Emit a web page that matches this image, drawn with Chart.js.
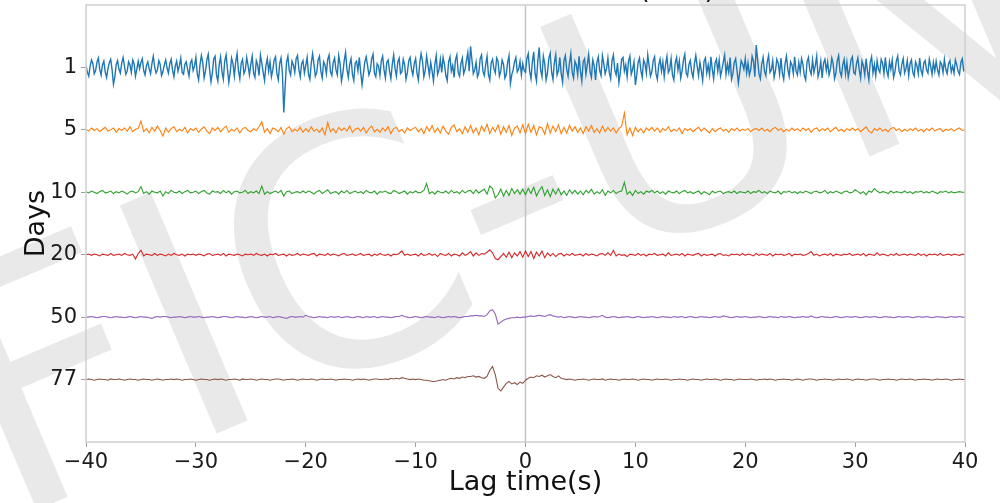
<!DOCTYPE html>
<html>
<head>
<meta charset="utf-8">
<script src="https://cdn.jsdelivr.net/npm/chart.js@4.4.1/dist/chart.umd.min.js"></script>
<style>
  html, body { margin: 0; padding: 0; background: #ffffff; }
  #wrap { width: 1000px; height: 503px; }
</style>
</head>
<body>
<div id="wrap"><canvas id="ncf" width="1000" height="503"></canvas></div>
<script>
// Lag axis runs from -40 s to +40 s
const lagStart = -40;
const lagStepFine = 0.125;   // 1-day stack sampling
const lagStep = 0.25;        // longer stacks sampling
const lagTicks = [-40, -30, -20, -10, 0, 10, 20, 30, 40];

// Stacking lengths (days), one trace each, top to bottom
const dayLabels = ['1', '5', '10', '20', '50', '77'];

// Normalised amplitudes, 100 counts = one trace spacing
const ampGain = 0.01;

const day1 = [
  3,-8,-14,2,12,6,-10,-5,9,15,-3,-12,4,10,-7,-16,-2,8,13,-4,
  -27,-15,5,11,-3,-9,7,16,2,-11,-6,9,4,-8,12,6,-14,-3,10,-2,
  8,14,-5,-12,3,9,-2,-10,6,18,1,-9,-4,11,5,-13,-7,4,12,-1,
  -9,6,13,-4,-15,2,10,-6,3,15,-8,-11,5,9,-3,-14,7,12,-5,2,
  16,-10,-20,4,19,8,-17,-6,12,21,-4,-23,-9,14,18,-12,-22,5,17,-7,
  -19,10,20,-3,-24,-8,15,6,-14,9,22,-5,-18,7,13,-10,-4,16,3,-12,
  5,18,-9,-16,11,4,-13,20,7,-8,-21,3,14,-6,9,-15,-4,12,17,-10,
  -20,6,15,-9,-72,-30,8,18,-5,-12,10,4,-8,14,19,-3,-15,6,11,-9,
  3,16,-11,-19,7,22,5,-14,-8,12,18,-6,-17,9,4,-10,13,20,-7,-13,
  8,15,-4,-12,19,6,-22,-9,11,24,-3,-16,5,14,-11,-21,7,10,-5,16,
  -8,-28,-10,9,17,3,-12,-5,14,21,-9,-15,6,2,-13,10,18,-4,-17,8,
  12,-6,-18,5,20,-2,-14,9,15,-10,-7,13,4,-19,-8,11,16,-3,-12,6,
  14,-9,-20,7,22,10,-15,-5,18,3,-12,8,-6,-22,5,19,-11,-4,13,-8,
  16,5,-13,-21,9,17,-6,3,-16,12,20,-8,-14,6,15,-10,-3,11,24,-6,
  34,12,-10,-4,8,-15,-9,14,20,-6,-13,4,18,-11,-20,7,13,-2,-9,15,
  10,-14,-6,12,5,-17,-11,8,19,-26,-12,-4,9,16,-7,-3,10,-12,6,-5,
  -8,14,22,-6,-18,9,25,-10,-22,12,32,-4,-15,18,6,-20,-9,15,23,-7,
  -19,8,20,-12,-5,16,-10,-24,11,19,-3,-14,7,22,-8,-17,10,4,-12,18,
  -6,-22,9,14,-11,5,21,-7,-16,12,3,-20,8,17,-5,-13,19,6,-10,-2,
  15,-8,-18,11,20,-4,-12,7,-24,-9,13,16,-6,4,-15,10,18,-11,-3,9,
  -28,-12,8,15,-5,-16,12,6,-9,20,3,-14,-7,11,17,-10,-19,4,13,-6,
  9,-15,5,18,-8,-3,14,-12,-20,7,16,-4,10,-17,-6,12,21,-9,-14,5,
  11,-7,-16,6,19,2,-13,8,-5,-21,10,15,-9,4,-12,17,-3,-18,7,13,
  -6,12,-14,-4,9,20,-11,5,-8,16,-19,-10,8,14,-5,-25,-8,11,6,-3,
  14,-9,7,-12,-3,18,10,-15,36,12,-10,-18,5,16,-6,-13,9,19,-8,-4,
  11,-16,-5,13,7,-11,15,-9,-19,6,18,-3,-14,9,4,-10,17,-6,-12,8,
  -7,14,5,-13,-20,9,16,-4,-11,12,-8,3,18,-15,-6,10,-17,7,13,-5,
  9,-12,-3,15,6,-18,-9,11,19,-7,-14,4,13,-10,8,-16,-4,12,17,-8,
  -11,6,15,-4,-17,10,3,-12,14,-6,-20,8,17,-9,5,-13,11,-3,-8,13,
  7,-10,16,-5,-14,9,-3,12,-16,-7,10,18,-6,-12,5,14,-9,-2,11,-13,
  6,12,-8,-14,9,3,-10,15,-5,-12,7,11,-4,-9,13,2,-11,8,-6,10,
  -4,-12,9,5,-8,13,-3,-10,6,11,-7,2,-9,12,4,-6,-11,8,14,-5,
  -3
];

const day5 = [
  1,-2,3,-1,2,-3,1,4,-2,0,3,-4,2,-1,3,-2,5,-3,1,2,
  14,-3,2,-5,4,-2,6,-1,-10,3,-4,2,5,-3,1,-2,4,-5,2,-1,
  3,-4,1,5,-2,-6,3,-1,4,-3,2,6,-4,1,-2,3,-5,2,4,-1,
  -3,2,-1,5,13,-4,2,-6,3,1,-3,4,-7,2,5,-3,1,-2,4,-4,
  2,-3,5,-2,1,-4,3,-8,12,-3,2,-5,4,-1,3,-2,6,-4,1,3,
  -2,4,-5,2,6,-3,1,-4,3,-2,5,-6,2,4,-3,1,-5,3,-1,2,
  4,-3,2,-6,5,-2,7,-4,3,-5,6,-2,-7,4,8,-3,2,-6,5,-4,
  7,-5,3,-8,6,-2,9,-6,4,-3,8,-7,5,-4,7,-9,3,6,-5,8,
  -6,9,-4,7,-8,5,3,-7,10,-5,6,-3,8,-6,4,-5,7,-2,5,-4,
  3,-6,5,-2,7,-4,2,-5,6,-3,4,-2,3,-5,2,6,27,-8,3,-9,
  4,-3,2,-5,3,-1,4,-2,3,-4,2,-1,5,-3,1,-2,3,-6,2,-1,
  2,-3,1,4,-2,3,-1,-5,2,-3,1,3,-2,1,-4,2,-1,3,-2,1,
  -1,2,-3,1,2,-1,3,-2,1,-3,2,4,-1,2,-3,1,-2,3,-1,2,
  -2,3,-1,2,-4,1,3,-2,2,-1,3,-3,1,4,-2,1,-3,2,-1,3,
  -1,2,-3,1,5,-2,-5,2,-1,3,-2,1,-3,2,4,-1,2,-3,1,-2,
  2,-1,3,-2,1,-3,2,-1,3,-2,1,2,-3,1,-1,2,-2,1,3,-1,
  0
];

const day10 = [
  1,-1,2,0,-2,1,3,-1,0,2,-2,1,-1,2,0,-3,1,2,-1,1,
  9,-2,1,-3,2,0,-1,2,-6,1,-2,3,0,-1,2,-2,1,3,-1,0,
  2,-2,1,3,-1,-3,2,0,1,-2,3,-1,2,-3,1,2,-1,0,3,-2,
  1,-1,2,-2,10,-3,1,-2,0,2,-1,3,-6,1,2,-2,0,1,-1,2,
  -1,2,0,-3,1,3,-2,1,4,-2,0,1,-3,2,-1,3,-2,0,2,-1,
  1,-2,3,0,-1,2,-3,1,0,2,-1,-2,3,1,-2,0,2,-3,1,-1,
  2,-1,0,3,14,-2,1,-3,2,0,-1,2,-2,3,-1,1,-2,3,-1,2,
  3,-2,4,-1,2,5,-3,10,6,-9,-4,5,-6,3,-5,6,-2,4,-3,5,
  -4,6,-2,8,-6,3,9,-5,4,-7,5,-3,6,-4,2,-5,4,-2,3,-3,
  2,-4,3,-1,5,-3,1,-2,4,-5,2,-1,3,-2,1,2,16,-3,1,-5,
  3,-2,1,-3,2,0,3,-1,2,-2,1,-3,2,0,-1,2,-2,1,3,-1,
  1,-2,0,2,-3,1,-1,-4,2,-1,1,2,-2,0,1,-1,2,-2,1,0,
  -1,2,-2,1,0,3,-1,1,-2,2,0,-1,2,-3,1,0,2,-1,1,-2,
  1,-1,2,0,-2,1,2,-1,0,3,-2,1,-1,2,0,-2,1,2,-1,0,
  4,1,-2,1,-4,2,0,6,2,-1,1,0,-2,2,-1,1,0,-1,2,-1,
  1,-2,1,0,2,-1,1,-1,2,0,-2,1,0,2,-1,1,-1,0,1,0,
  0
];

const day20 = [
  0,1,-1,1,0,-2,1,0,-1,2,-1,0,1,-1,2,0,-1,1,-7,2,
  7,-2,1,0,-1,2,-1,1,0,-2,1,-1,2,0,-1,1,-2,1,0,1,
  -1,1,0,-2,1,2,-1,0,1,-1,2,-2,1,0,-1,1,0,-2,1,0,
  1,-1,2,0,-1,1,-2,1,0,2,-1,0,1,-2,1,-1,0,2,-1,1,
  0,-1,1,2,-2,1,0,-1,2,-1,1,0,-2,1,2,-1,0,1,-1,0,
  2,-1,0,1,-2,1,-1,2,0,-1,1,-2,1,0,2,6,-1,1,-1,0,
  1,-2,2,-1,0,2,-1,1,-3,2,0,-1,2,-2,1,0,-2,3,-1,1,
  5,-2,3,-1,2,1,4,8,3,-6,-8,-3,2,-4,4,-5,3,-2,5,-4,
  6,-3,5,-6,4,-2,6,-5,3,-2,2,-3,1,2,-2,1,-1,2,-1,0,
  1,-2,2,-1,1,0,-2,1,2,-1,3,-1,7,-2,1,-1,0,-3,1,0,
  -1,2,-1,1,-2,1,0,2,-1,0,1,-2,3,-1,0,1,-1,2,-2,1,
  0,-1,1,2,-2,1,-1,0,1,-2,1,2,-1,0,-2,1,0,1,-1,2,
  -1,1,0,-2,2,-1,1,0,-1,2,-2,1,0,1,-1,0,2,-2,1,0,
  1,-1,0,2,5,-1,1,-2,0,1,-1,2,-2,1,0,-1,1,0,2,-1,
  0,1,-1,2,-2,1,0,-1,3,-1,1,0,-2,1,-1,2,-1,0,1,-1,
  1,0,-1,2,-1,1,-2,1,0,1,-1,2,-1,0,1,-1,1,0,-1,1,
  0
];

const day50 = [
  0,0,1,0,-1,0,1,1,0,-1,0,1,0,0,-1,0,1,0,-1,0,
  1,0,0,-1,-2,0,1,0,1,1,0,-1,0,0,1,0,-1,0,1,0,
  0,1,0,-1,0,0,1,0,-1,0,1,1,0,-1,0,1,0,0,-1,0,
  1,0,-1,0,1,0,0,1,-1,0,1,0,-1,-2,0,1,0,0,1,0,
  3,1,0,-1,0,1,0,0,-1,1,0,0,1,-1,0,1,0,-1,0,1,
  0,-1,1,0,0,1,-1,0,1,0,0,-1,0,1,1,3,1,0,-1,0,
  1,0,-1,0,1,0,0,-1,1,0,-1,0,1,0,1,0,-1,0,1,1,
  2,2,3,2,2,1,4,10,12,5,-11,-8,-5,-3,-2,-1,-1,0,-1,0,
  0,1,2,1,2,3,2,1,3,4,2,1,0,1,-1,0,1,0,-1,0,
  1,0,0,-1,0,1,0,1,3,0,-1,0,1,0,-1,0,0,1,0,-1,
  0,1,0,-1,0,0,1,0,-1,0,1,0,0,-1,1,0,0,1,-1,0,
  1,0,-1,0,1,0,0,-1,0,1,0,0,2,1,0,-1,0,1,0,0,
  1,0,-1,0,0,1,0,-1,0,1,0,0,-1,1,0,0,1,0,-1,0,
  0,1,0,0,2,0,-1,0,1,0,0,-1,0,1,0,-1,0,1,0,0,
  1,0,-1,0,1,0,0,1,0,-1,0,1,0,0,-1,0,1,0,0,1,
  0,-1,0,1,0,0,1,0,-1,0,1,0,0,-1,0,1,0,0,1,0,
  0
];

const day77 = [
  0,1,0,-1,0,1,0,0,-1,1,0,0,1,0,-1,0,1,0,0,-1,
  0,1,0,0,-1,0,1,0,-1,0,0,1,0,1,0,-1,0,0,1,0,
  -1,0,1,0,0,-1,0,1,0,1,0,-1,0,0,1,0,-1,1,0,0,
  1,0,-1,0,1,0,0,-1,0,1,1,0,-1,0,0,1,0,-1,0,1,
  0,0,1,0,-1,0,1,0,0,1,0,-1,0,0,1,0,0,-1,0,1,
  0,1,0,-1,0,1,1,0,0,1,0,2,1,2,1,3,2,1,0,1,
  0,1,0,-1,-1,-2,-3,-3,-2,-1,0,-1,1,2,1,3,2,4,3,5,
  5,6,4,5,3,2,5,15,21,8,-14,-18,-12,-6,-3,-7,-5,-8,-4,-6,
  -1,2,4,3,6,5,7,4,6,8,5,3,6,2,1,0,1,0,-1,0,
  0,1,0,-1,0,1,0,0,1,-1,0,1,0,0,-1,0,1,0,0,1,
  0,-1,0,1,0,0,-1,0,1,0,0,1,0,-1,0,0,1,0,0,-1,
  0,1,0,0,-1,0,1,0,0,1,0,-1,0,1,0,0,-1,0,1,0,
  0,0,1,0,-1,0,0,1,0,1,0,-1,0,0,1,0,0,-1,0,1,
  0,-1,0,1,1,0,-1,0,0,1,0,0,-1,0,1,0,0,1,0,-1,
  0,1,0,0,-1,0,1,1,0,-1,0,0,1,0,0,-1,0,1,0,0,
  1,0,-1,0,0,1,0,0,-1,0,1,0,0,1,0,-1,0,0,1,0,
  0
];

const traces = [day1, day5, day10, day20, day50, day77];
const traceSteps = [lagStepFine, lagStep, lagStep, lagStep, lagStep, lagStep];
const traceColors = ['#1f77b4', '#ff7f0e', '#2ca02c', '#d62728', '#9467bd', '#8c564b'];
const traceWidths = [1.4, 1.1, 1.1, 1.1, 1.1, 1.1];

// Each trace sits on its own row; upward deflection = positive amplitude
const datasets = traces.map((amp, k) => ({
  label: dayLabels[k],
  data: amp.map((a, i) => ({ x: lagStart + i * traceSteps[k], y: (k + 1) - a * ampGain })),
  borderColor: traceColors[k],
  borderWidth: traceWidths[k],
  pointRadius: 0,
  fill: false,
  tension: 0
}));

const FONT = '"DejaVu Sans", "Liberation Sans", sans-serif';

// Light diagonal lettering behind the plot
const backdropText = {
  id: 'backdropText',
  beforeDraw(chart) {
    const ctx = chart.ctx;
    ctx.save();
    ctx.fillStyle = '#e9e9e9';
    ctx.font = '340px ' + FONT;
    ctx.textAlign = 'left';
    ctx.textBaseline = 'alphabetic';
    ctx.translate(6, 523);
    ctx.rotate(-23 * Math.PI / 180);
    ctx.fillText('FIC-UN', 0, 0);
    ctx.restore();
  }
};

// Zero-lag marker and the box around the plot area
const frameAndZero = {
  id: 'frameAndZero',
  beforeDatasetsDraw(chart) {
    const { ctx, chartArea: a, scales } = chart;
    const x0 = scales.x.getPixelForValue(0);
    ctx.save();
    ctx.strokeStyle = '#c4c4c4';
    ctx.lineWidth = 1.5;
    ctx.beginPath();
    ctx.moveTo(x0, a.top);
    ctx.lineTo(x0, a.bottom);
    ctx.stroke();
    ctx.restore();
  },
  afterDatasetsDraw(chart) {
    const { ctx, chartArea: a } = chart;
    ctx.save();
    ctx.strokeStyle = '#cfcfcf';
    ctx.lineWidth = 1.5;
    ctx.strokeRect(a.left, a.top, a.right - a.left, a.bottom - a.top);
    ctx.restore();
  }
};

// Title line sitting above the top edge
const topTitle = {
  id: 'topTitle',
  afterDraw(chart) {
    const ctx = chart.ctx;
    ctx.save();
    ctx.fillStyle = '#111111';
    ctx.font = '27px ' + FONT;
    ctx.textAlign = 'right';
    ctx.textBaseline = 'alphabetic';
    ctx.fillText('Cross-correlation (NCF)', 715, -2);
    ctx.restore();
  }
};

new Chart(document.getElementById('ncf'), {
  type: 'line',
  data: { datasets },
  plugins: [backdropText, frameAndZero, topTitle],
  options: {
    responsive: false,
    animation: false,
    devicePixelRatio: 1,
    parsing: false,
    layout: { padding: { top: 5, right: 35, left: 0, bottom: 0 } },
    plugins: {
      legend: { display: false },
      tooltip: { enabled: false },
      title: { display: false }
    },
    scales: {
      x: {
        type: 'linear',
        min: -40,
        max: 40,
        afterBuildTicks(scale) { scale.ticks = lagTicks.map(v => ({ value: v })); },
        afterFit(scale) { scale.height = 61; scale.paddingLeft = 0; scale.paddingRight = 0; },
        ticks: {
          callback: v => (v < 0 ? '\u2212' + Math.abs(v) : String(v)),
          font: { family: FONT, size: 21 },
          color: '#1a1a1a',
          padding: 3,
          maxRotation: 0,
          autoSkip: false
        },
        grid: { drawOnChartArea: false, drawTicks: true, tickLength: 5, color: '#a0a0a0', lineWidth: 1 },
        border: { display: false },
        title: {
          display: true,
          text: 'Lag time(s)',
          font: { family: FONT, size: 27 },
          color: '#111111',
          padding: { top: 0, bottom: 4 }
        }
      },
      y: {
        type: 'linear',
        min: 0,
        max: 7,
        reverse: true,
        afterBuildTicks(scale) { scale.ticks = dayLabels.map((d, i) => ({ value: i + 1 })); },
        afterFit(scale) { scale.width = 86; scale.paddingTop = 0; scale.paddingBottom = 0; },
        ticks: {
          callback: v => dayLabels[v - 1],
          font: { family: FONT, size: 21 },
          color: '#1a1a1a',
          padding: 4,
          autoSkip: false
        },
        grid: { drawOnChartArea: false, drawTicks: true, tickLength: 5, color: '#a0a0a0', lineWidth: 1 },
        border: { display: false },
        title: {
          display: true,
          text: 'Days',
          font: { family: FONT, size: 27 },
          color: '#111111',
          padding: { top: 21, bottom: 0 }
        }
      }
    }
  }
});
</script>
</body>
</html>
